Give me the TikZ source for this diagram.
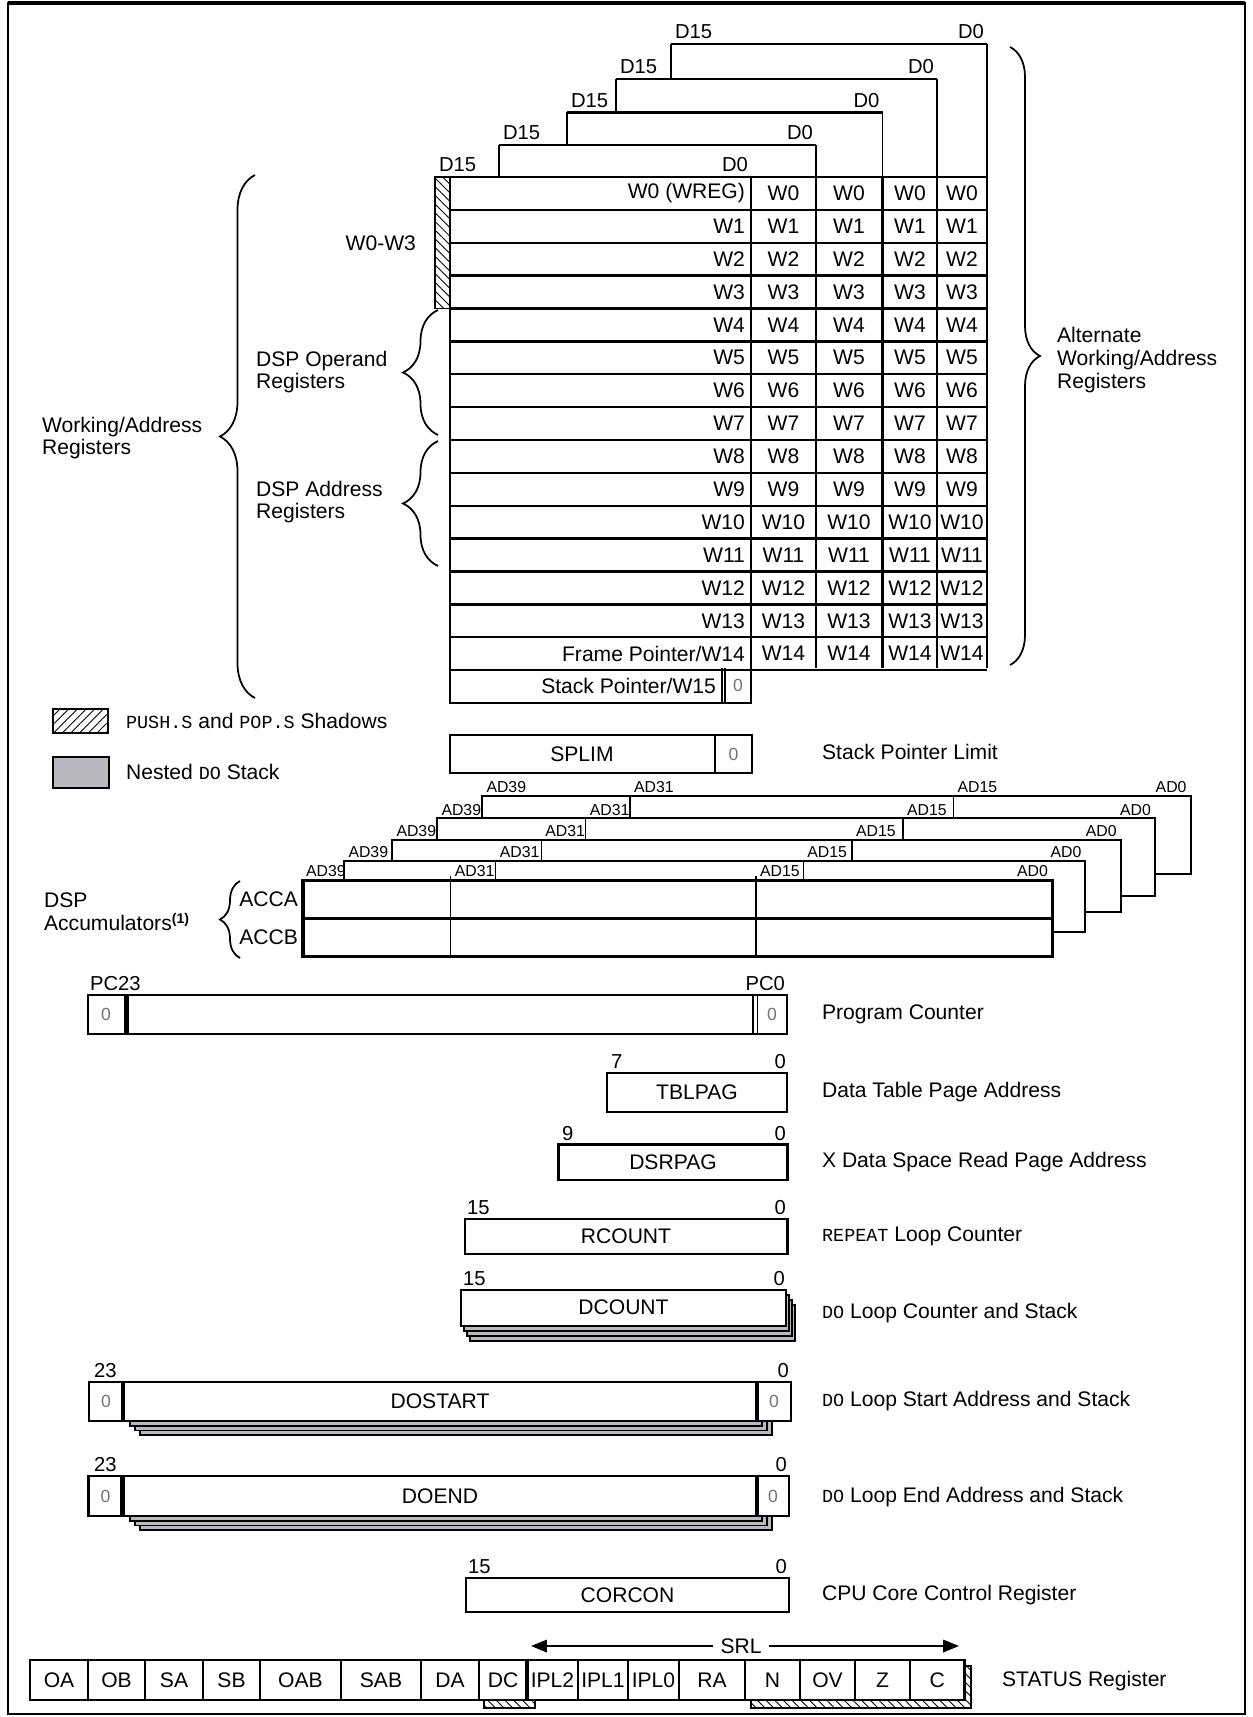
\documentclass[tikz,border=0pt]{standalone}
\usepackage{fontspec}
\setmainfont{Liberation Sans}
\setmonofont{Liberation Mono}
\usetikzlibrary{patterns.meta,decorations.pathreplacing,arrows.meta}

\definecolor{stackgray}{RGB}{184,184,190}
\newcommand{\regmono}[1]{{\fontsize{10.5}{12}\selectfont\ttfamily #1}}

\tikzset{
  txt/.style={font=\fontsize{12}{13}\selectfont, inner sep=1pt},
  bitno/.style={font=\fontsize{11.5}{12}\selectfont, inner sep=1pt},
  adno/.style={font=\fontsize{9}{10}\selectfont, inner sep=1pt},
  zero/.style={font=\fontsize{10}{10}\selectfont, text=black!55, inner sep=0pt},
  regbox/.style={draw, line width=1.4pt, fill=white},
  stackbox/.style={draw, line width=0.9pt, fill=stackgray},
  curly/.style={decorate, decoration={brace, amplitude=#1}, line width=1pt},
  shadowhatch/.style={pattern={Lines[angle=-45,distance=3.5pt,line width=0.5pt]}},
  legendhatch/.style={pattern={Lines[angle=45,distance=3.5pt,line width=0.5pt]}},
}

\begin{document}
\begin{tikzpicture}[x=0.02cm,y=-0.02cm]
    \useasboundingbox (0,0) rectangle (1253,1717);

    % Frame
    \draw[line width=1.1pt] (8,3) rectangle (1245,1714);
    \draw[line width=2.2pt] (8,3) -- (1245,3);

    % Alternate register banks
    \foreach \l/\t/\r/\n [count=\i] in {671/44/987/79, 616/79/937/112.5, 567/112.5/882.5/145, 499/145/816/177} {
        \draw[line width=1.1pt] (\l,\n) -- (\l,\t) (\r,\t) -- (\r,177);
        \draw[line width=1.7pt] (\l,\t) -- (\r,\t);
        \node[bitno, anchor=south west] (bkhi\i) at (\l+2,\t-3) {D15};
        \node[bitno, anchor=south east] (bklo\i) at (\r-1,\t-3) {D0};
    }

    % Working registers
    \draw[shadowhatch, line width=0.9pt] (435,177) rectangle (450,308.5);
    \foreach \k in {1,...,15}
        \draw[line width=1.3pt] (450,177+\k*32.875) -- (987,177+\k*32.875);
    \foreach \c in {751,816,882.5,937,987}
        \draw[line width=1.3pt] (\c,177) -- (\c,668);
    \draw[line width=1.3pt] (450,177) -- (450,703) -- (751,703) -- (751,668);
    \draw[line width=1.7pt] (435,177) -- (987,177);
    \node[bitno, anchor=south west] (wrhi) at (437,174) {D15};
    \node[bitno, anchor=south east] (wrlo) at (750,174) {D0};

    \foreach \name [count=\k from 0] in {W0 (WREG),W1,W2,W3,W4,W5,W6,W7,W8,W9,W10,W11,W12,W13,Frame Pointer/W14}
        \node[txt, anchor=east] (w\k) at (747,193.4+\k*32.875) {\name};
    \foreach \k in {0,...,14}
        \foreach \cx [count=\j] in {783.5,849,910,962}
            \node[txt] (w\k-\j) at (\cx,193.4+\k*32.875) {W\k};

    \node[txt, anchor=east] (sp) at (718,685.9) {Stack Pointer/W15};
    \draw[line width=0.6pt] (722,668) -- (722,703) (725,668) -- (725,703);
    \node[zero] (sp0) at (738,685.9) {0};

    % Braces
    \draw[curly=0.7cm] (255,698) -- (255,175);
    \draw[curly=0.7cm] (438,435) -- (438,310);
    \draw[curly=0.7cm] (438,566) -- (438,441);
    \draw[curly=0.6cm] (1010,47) -- (1010,665);

    \node[txt, anchor=west, align=left] (wareg) at (40,438) {Working/Address\\Registers};
    \node[txt, anchor=east] (w03) at (418,243) {W0-W3};
    \node[txt, anchor=west, align=left] (dspop) at (254,372) {DSP Operand\\Registers};
    \node[txt, anchor=west, align=left] (dspad) at (254,502) {DSP Address\\Registers};
    \node[txt, anchor=west, align=left] (altreg) at (1055,360) {Alternate\\Working/Address\\Registers};

    % Legend
    \draw[legendhatch, line width=1.1pt] (53,709) rectangle (108,733);
    \node[txt, anchor=west] (lgshadow) at (124,721) {\regmono{PUSH.S} and \regmono{POP.S} Shadows};
    \draw[stackbox, line width=1.1pt] (53,757) rectangle (109,788);
    \node[txt, anchor=west] (lgstack) at (124,772) {Nested \regmono{DO} Stack};

    % SPLIM
    \draw[regbox] (450,735) rectangle (752,773);
    \draw[line width=0.6pt] (715,735) -- (715,773);
    \node[txt] (splim) at (582,754) {SPLIM};
    \node[zero] (splim0) at (733.5,754) {0};
    \node[txt, anchor=west] (splimd) at (820,752) {Stack Pointer Limit};

    % Accumulators, back copies
    \foreach \l/\t/\a/\b/\r/\f/\n/\m [count=\i] in {
        482.4/796/630/953.5/1190.6/874/818.3/1155,
        437.4/818.3/585.7/903/1155/896/840/1120.7,
        392.4/840/541.3/852/1120.7/911.7/861/1085.4,
        344.4/861/495.7/803.3/1085.4/932/880.7/1052.6} {
        \draw[line width=1.1pt] (\l,\n) -- (\l,\t) -- (\r,\t) -- (\r,\f) -- (\m,\f);
        \draw[line width=0.7pt] (\a,\t) -- (\a,\n) (\b,\t) -- (\b,\n);
        \node[adno, anchor=south west] (ad39-\i) at (\l+2,\t-1) {AD39};
        \node[adno, anchor=south west] (ad31-\i) at (\a+2,\t-1) {AD31};
        \node[adno, anchor=south west] (ad15-\i) at (\b+2,\t-1) {AD15};
        \node[adno, anchor=south east] (ad0-\i) at (\r-2,\t-1) {AD0};
    }

    % Accumulators, front copy
    \draw[line width=0.7pt] (450.8,876) -- (450.8,956.7) (756,876) -- (756,956.7);
    \draw[line width=1.8pt] (303,880.7) rectangle (1052.6,956.7);
    \draw[line width=1.8pt] (303,918.5) -- (1052.6,918.5);
    \node[adno, anchor=south west] (ad39) at (304,879) {AD39};
    \node[adno, anchor=south west] (ad31) at (452.8,879) {AD31};
    \node[adno, anchor=south west] (ad15) at (758,879) {AD15};
    \node[adno, anchor=south east] (ad0) at (1050,879) {AD0};
    \node[txt, anchor=east] (acca) at (300,899.5) {ACCA};
    \node[txt, anchor=east] (accb) at (300,937.5) {ACCB};
    \draw[curly=0.4cm] (240,958) -- (240,881);
    \node[txt, anchor=west, align=left] (dspacc) at (42,912) {DSP\\Accumulators\textsuperscript{\textbf{(1)}}};

    % Program Counter
    \draw[regbox] (88,995) rectangle (787,1034);
    \draw[line width=2.6pt] (126.5,995) -- (126.5,1034);
    \draw[line width=0.6pt] (753,995) -- (753,1034) (757.5,995) -- (757.5,1034);
    \node[zero] (pcl0) at (106,1014.5) {0};
    \node[zero] (pcr0) at (772,1014.5) {0};
    \node[bitno, anchor=south west] (pc23) at (88,993) {PC23};
    \node[bitno, anchor=south east] (pc0) at (787,993) {PC0};
    \node[txt, anchor=west] (pcd) at (820,1014) {Program Counter};

    % TBLPAG
    \draw[regbox] (607,1073) rectangle (787,1112);
    \node[bitno, anchor=south west] (tbl7) at (609,1071) {7};
    \node[bitno, anchor=south east] (tbl0) at (788,1071) {0};
    \node[txt] (tbl) at (697,1092.5) {TBLPAG};
    \node[txt, anchor=west] (tbld) at (820,1092) {Data Table Page Address};

    % DSRPAG
    \draw[regbox] (558.6,1144.6) rectangle (787.5,1180);
    \node[bitno, anchor=south west] (dsr9) at (560,1142.6) {9};
    \node[bitno, anchor=south east] (dsr0) at (788,1142.6) {0};
    \node[txt] (dsr) at (673,1162.3) {DSRPAG};
    \node[txt, anchor=west] (dsrd) at (820,1162) {X Data Space Read Page Address};

    % RCOUNT
    \draw[regbox] (465,1219) rectangle (787.5,1254);
    \node[bitno, anchor=south west] (rc15) at (465,1217) {15};
    \node[bitno, anchor=south east] (rc0) at (788,1217) {0};
    \node[txt] (rc) at (626,1236.5) {RCOUNT};
    \node[txt, anchor=west] (rcd) at (820,1236.5) {\regmono{REPEAT} Loop Counter};

    % DCOUNT
    \foreach \s in {3,2,1}
        \draw[stackbox] (461+3*\s,1290+5*\s) rectangle (786+3*\s,1326+5*\s);
    \draw[regbox] (461,1290) rectangle (786,1326);
    \node[bitno, anchor=south west] (dc15) at (461,1288) {15};
    \node[bitno, anchor=south east] (dc0) at (787,1288) {0};
    \node[txt] (dc) at (623.5,1307) {DCOUNT};
    \node[txt, anchor=west] (dcd) at (820,1313) {\regmono{DO} Loop Counter and Stack};

    % DOSTART
    \foreach \s in {3,2,1}
        \draw[stackbox] (125+5*\s,1382+4.7*\s) rectangle (757+5*\s,1421+4.7*\s);
    \draw[regbox] (89,1382) rectangle (791,1421);
    \draw[line width=2.3pt] (123,1382) -- (123,1421) (757,1382) -- (757,1421);
    \node[zero] (dsl0) at (106,1401.5) {0};
    \node[zero] (dsr0) at (774,1401.5) {0};
    \node[bitno, anchor=south west] (ds23) at (92,1380) {23};
    \node[bitno, anchor=south east] (ds0) at (791,1380) {0};
    \node[txt] (ds) at (440,1401.5) {DOSTART};
    \node[txt, anchor=west] (dsd) at (820,1401.5) {\regmono{DO} Loop Start Address and Stack};

    % DOEND
    \foreach \s in {3,2,1}
        \draw[stackbox] (125+5*\s,1476+4.7*\s) rectangle (757+5*\s,1516+4.7*\s);
    \draw[regbox] (88.3,1476) rectangle (789,1516);
    \draw[line width=2.3pt] (122.5,1476) -- (122.5,1516) (757,1476) -- (757,1516);
    \node[zero] (del0) at (105.5,1496) {0};
    \node[zero] (der0) at (773,1496) {0};
    \node[bitno, anchor=south west] (de23) at (92,1474) {23};
    \node[bitno, anchor=south east] (de0) at (789,1474) {0};
    \node[txt] (de) at (440,1496) {DOEND};
    \node[txt, anchor=west] (ded) at (820,1497) {\regmono{DO} Loop End Address and Stack};

    % CORCON
    \draw[regbox] (466,1578) rectangle (789,1612);
    \node[bitno, anchor=south west] (cc15) at (466,1576) {15};
    \node[bitno, anchor=south east] (cc0) at (789,1576) {0};
    \node[txt] (cc) at (627.5,1595) {CORCON};
    \node[txt, anchor=west] (ccd) at (820,1595) {CPU Core Control Register};

    % STATUS register
    \draw[shadowhatch, line width=0.8pt] (484,1666) rectangle (535,1708);
    \draw[shadowhatch, line width=0.8pt] (751,1666) rectangle (971,1708);
    \draw[regbox] (30,1660) rectangle (964.5,1700);
    \foreach \a/\b/\name [count=\i] in {30/88/OA, 88/145/OB, 145/203/SA, 203/260/SB, 260/341/OAB,
        341/421/SAB, 421/479/DA, 479/527/DC, 527/578/IPL2, 578/628/IPL1, 628/679/IPL0,
        679/745/RA, 745/800/N, 800/855/OV, 855/910/Z, 910/964.5/C} {
        \draw[line width=1.1pt] (\a,1660) -- (\a,1700);
        \node[txt] (st\i) at ({(\a+\b)/2},1680) {\name};
    }
    \draw[line width=2.6pt] (527,1660) -- (527,1700);
    \node[txt, anchor=west] (std) at (1000,1681) {STATUS Register};

    % SRL span
    \coordinate (srlL) at (531,1646);
    \coordinate (srlR) at (959,1646);
    \draw[{Triangle[length=9pt,width=7pt]}-{Triangle[length=9pt,width=7pt]}, line width=1.3pt] (srlL) -- (srlR);
    \node[txt, fill=white, inner xsep=4pt] (srl) at (741,1646) {SRL};

\end{tikzpicture}
\end{document}
